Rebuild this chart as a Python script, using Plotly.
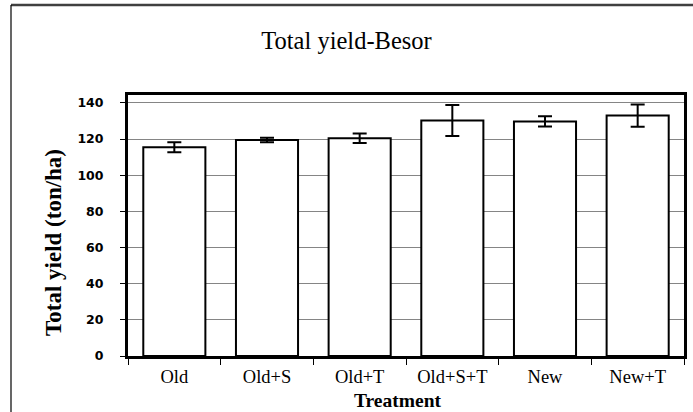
import plotly.graph_objects as go

categories = ["Old", "Old+S", "Old+T", "Old+S+T", "New", "New+T"]
yield_values = [115.5, 119.5, 120.5, 130.3, 129.8, 133.0]
yield_errors = [2.8, 1.2, 2.6, 8.6, 2.8, 6.2]
y_ticks = [0, 20, 40, 60, 80, 100, 120, 140]

L, R, T, B = 128, 9, 95, 56
W, H = 693, 412
pw, ph = W - L - R, H - T - B

fig = go.Figure()
fig.add_trace(go.Bar(
    x=categories, y=yield_values,
    marker=dict(color="white", line=dict(color="black", width=2)),
    width=0.67,
    error_y=dict(type="data", array=yield_errors, visible=True,
                 color="black", thickness=2, width=7),
))

fig.update_layout(
    width=W, height=H,
    margin=dict(l=L, r=R, t=T, b=B, autoexpand=False),
    paper_bgcolor="white", plot_bgcolor="white",
    showlegend=False,
    title=dict(text="Total yield-Besor", x=0.5, xref="container", xanchor="center",
               y=1 - 40 / H, yanchor="middle",
               font=dict(family="Liberation Serif", size=24.5, color="black")),
    xaxis=dict(
        showline=True, linecolor="black", linewidth=3, mirror=True,
        ticks="outside", tickson="boundaries", ticklen=6, tickcolor="black", tickwidth=1,
        ticklabelstandoff=2,
        tickfont=dict(family="Liberation Serif", size=18.5, color="black"),
        showgrid=False, automargin=False,
    ),
    yaxis=dict(
        range=[0, 144.4], tickvals=y_ticks,
        showline=True, linecolor="black", linewidth=3, mirror=True,
        ticks="outside", ticklen=5, tickcolor="black", tickwidth=1,
        ticklabelstandoff=14,
        tickfont=dict(family="DejaVu Sans", size=12.5, color="black", weight="bold"),
        showgrid=True, gridcolor="#858585", gridwidth=1,
        zeroline=False, automargin=False,
    ),
    annotations=[
        dict(text="<b>Treatment</b>", xref="paper", yref="paper",
             x=(398 - L) / pw, y=-(400 - (H - B)) / ph, xanchor="center", yanchor="middle",
             showarrow=False, font=dict(family="Liberation Serif", size=19.5, color="black")),
        dict(text="<b>Total yield (ton/ha)</b>", xref="paper", yref="paper", textangle=-90,
             x=(53 - L) / pw, y=((H - B) - 243) / ph, xanchor="center", yanchor="middle",
             showarrow=False, font=dict(family="Liberation Serif", size=23, color="black")),
    ],
)

# outer chart frame (top and left edges visible)
fig.add_shape(type="line", xref="paper", yref="paper",
              x0=(11 - L) / pw, x1=(W - L) / pw, y0=(H - B - 5) / ph, y1=(H - B - 5) / ph,
              line=dict(color="#404040", width=2.5))
fig.add_shape(type="line", xref="paper", yref="paper",
              x0=(11 - L) / pw, x1=(11 - L) / pw, y0=(H - B - 5) / ph, y1=-B / ph,
              line=dict(color="black", width=1.2))

fig.write_html("out.html", config={"displayModeBar": False},
               post_script="document.body.style.margin='0px';")
